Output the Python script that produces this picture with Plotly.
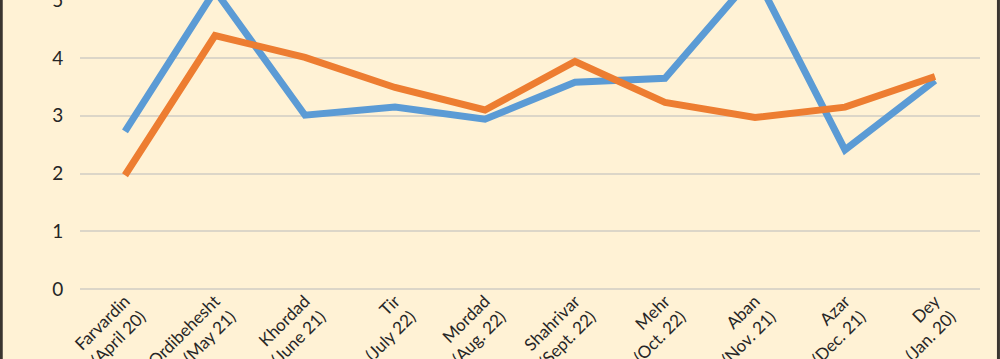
import plotly.graph_objects as go

months = ["Farvardin<br>(April 20)", "Ordibehesht<br>(May 21)", "Khordad<br>(June 21)",
          "Tir<br>(July 22)", "Mordad<br>(Aug. 22)", "Shahrivar<br>(Sept. 22)",
          "Mehr<br>(Oct. 22)", "Aban<br>(Nov. 21)", "Azar<br>(Dec. 21)", "Dey<br>(Jan. 20)"]
series_blue = [2.73, 5.17, 3.01, 3.15, 2.94, 3.58, 3.65, 5.45, 2.41, 3.61]
series_orange = [1.97, 4.39, 4.01, 3.49, 3.10, 3.94, 3.23, 2.97, 3.15, 3.68]
y_ticks = [0, 1, 2, 3, 4, 5]

bg = "#FFF2D5"
fig = go.Figure()
fig.add_trace(go.Scatter(x=months, y=series_blue, mode="lines",
                         line=dict(color="#5B9BD5", width=7, shape="linear")))
fig.add_trace(go.Scatter(x=months, y=series_orange, mode="lines",
                         line=dict(color="#ED7D31", width=7, shape="linear")))

fig.update_layout(
    width=1000, height=359,
    margin=dict(l=80, r=20, t=0, b=70),
    paper_bgcolor=bg, plot_bgcolor=bg,
    showlegend=False,
    font=dict(family="Lato, Open Sans, sans-serif", color="#262626"),
    shapes=[
        dict(type="line", xref="paper", yref="paper", x0=-0.0875, x1=-0.0875, y0=-0.3, y1=1.1,
             line=dict(color="#3A3530", width=3)),
        dict(type="line", xref="paper", yref="paper", x0=1.0205, x1=1.0205, y0=-0.3, y1=1.1,
             line=dict(color="#3A3530", width=3)),
    ],
)
fig.update_xaxes(type="category", range=[-0.5, 9.5], showgrid=False, showline=False,
                 zeroline=False, tickangle=-45, tickfont=dict(size=17, color="#262626"),
                 automargin=False, ticks="", ticklabelstandoff=-2)
fig.update_yaxes(range=[0, 5.005], tickvals=y_ticks, showgrid=True, gridcolor="#DCD6C8",
                 gridwidth=1.5, zeroline=True, zerolinecolor="#DCD6C8", zerolinewidth=1.5,
                 tickfont=dict(size=19, color="#262626"), automargin=False,
                 ticks="outside", ticklen=12, tickcolor="rgba(0,0,0,0)",
                 ticklabeloverflow="allow")

fig.write_html("out.html", config={"displayModeBar": False},
               post_script="document.body.style.margin='0';document.body.style.overflow='hidden';")
